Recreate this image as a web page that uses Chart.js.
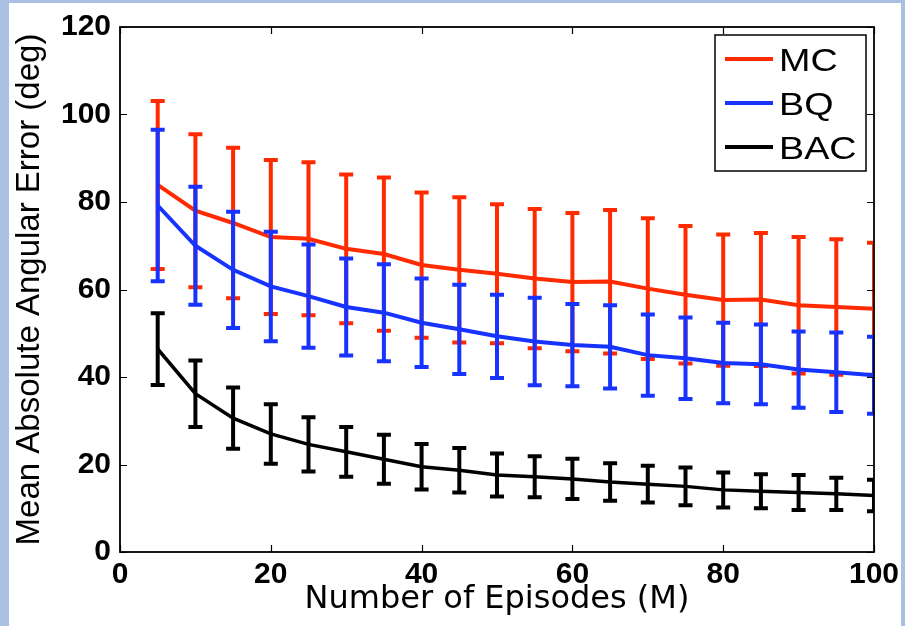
<!DOCTYPE html>
<html>
<head>
<meta charset="utf-8">
<script src="https://cdn.jsdelivr.net/npm/chart.js@4/dist/chart.umd.min.js"></script>
<style>
  body { margin: 0; background: #fff; }
  canvas { display: block; }
</style>
</head>
<body>
<canvas id="myChart" width="905" height="626"></canvas>
<script>
const episodes = [5, 10, 15, 20, 25, 30, 35, 40, 45, 50, 55, 60, 65, 70, 75, 80, 85, 90, 95, 100];

const mcMean = [83.9, 78.0, 75.2, 72.0, 71.6, 69.3, 68.1, 65.6, 64.5, 63.6, 62.5, 61.7, 61.8, 60.2, 58.8, 57.6, 57.7, 56.4, 56.0, 55.6];
const mcErr = [19.2, 17.5, 17.2, 17.6, 17.5, 17.0, 17.5, 16.6, 16.6, 15.9, 15.9, 15.8, 16.4, 16.1, 15.7, 15.0, 15.2, 15.6, 15.5, 15.1];

const bqMean = [79.2, 70.0, 64.5, 60.7, 58.5, 56.0, 54.7, 52.4, 50.9, 49.3, 48.1, 47.3, 46.9, 45.0, 44.3, 43.2, 42.9, 41.7, 41.1, 40.4];
const bqErr = [17.3, 13.5, 13.3, 12.5, 11.8, 11.1, 11.1, 10.1, 10.2, 9.5, 10.0, 9.4, 9.5, 9.3, 9.3, 9.2, 9.1, 8.7, 9.1, 8.8];

const bacMean = [46.4, 36.2, 30.6, 27.0, 24.6, 22.9, 21.2, 19.5, 18.7, 17.6, 17.2, 16.7, 16.0, 15.5, 15.0, 14.2, 13.9, 13.6, 13.3, 12.9];
const bacErr = [8.2, 7.6, 7.0, 6.8, 6.2, 5.7, 5.6, 5.2, 5.1, 4.9, 4.7, 4.6, 4.3, 4.2, 4.3, 4.0, 3.9, 4.0, 3.7, 3.6];

const xTicks = [0, 20, 40, 60, 80, 100];
const yTicks = [0, 20, 40, 60, 80, 100, 120];

function points(means) {
    return episodes.map((e, i) => ({x: e, y: means[i]}));
}

// slide frame + axes box with inward ticks
const frame = {
    id: 'frame',
    beforeDraw(chart) {
        const ctx = chart.ctx;
        ctx.save();
        ctx.fillStyle = '#a9c0e2';
        ctx.fillRect(0, 0, chart.width, chart.height);
        ctx.fillStyle = '#fff';
        ctx.fillRect(9, 3, chart.width - 13, chart.height - 3);
        ctx.restore();
    },
    afterDatasetsDraw(chart) {
        const {ctx, chartArea: a, scales: {x, y}} = chart;
        ctx.save();
        ctx.strokeStyle = '#000';
        ctx.lineWidth = 1.2;
        ctx.beginPath();
        yTicks.forEach(v => {
            const py = Math.round(y.getPixelForValue(v)) + 0.5;
            ctx.moveTo(a.left, py); ctx.lineTo(a.left + 7, py);
            ctx.moveTo(a.right, py); ctx.lineTo(a.right - 7, py);
        });
        xTicks.forEach(v => {
            const px = Math.round(x.getPixelForValue(v)) + 0.5;
            ctx.moveTo(px, a.bottom); ctx.lineTo(px, a.bottom - 7);
            ctx.moveTo(px, a.top); ctx.lineTo(px, a.top + 7);
        });
        ctx.stroke();
        ctx.lineWidth = 1.8;
        ctx.strokeRect(a.left, a.top, a.right - a.left, a.bottom - a.top);
        ctx.restore();
    }
};

const errorBars = {
    id: 'errorBars',
    afterDatasetDraw(chart, args) {
        const ds = chart.data.datasets[args.index];
        const {ctx, chartArea: a, scales: {x, y}} = chart;
        ctx.save();
        ctx.beginPath();
        ctx.rect(a.left, a.top, a.right - a.left, a.bottom - a.top);
        ctx.clip();
        ctx.strokeStyle = ds.borderColor;
        ctx.lineWidth = 4;
        ds.data.forEach((p, i) => {
            const px = x.getPixelForValue(p.x);
            const top = y.getPixelForValue(p.y + ds.errors[i]);
            const bot = y.getPixelForValue(p.y - ds.errors[i]);
            ctx.beginPath();
            ctx.moveTo(px, top); ctx.lineTo(px, bot);
            ctx.moveTo(px - 7, top); ctx.lineTo(px + 7, top);
            ctx.moveTo(px - 7, bot); ctx.lineTo(px + 7, bot);
            ctx.stroke();
        });
        ctx.restore();
    }
};

const boxLegend = {
    id: 'boxLegend',
    afterDraw(chart) {
        const {ctx, chartArea: a} = chart;
        const w = 151, h = 136;
        const bx = a.right - 8 - w, by = a.top + 8;
        ctx.save();
        ctx.fillStyle = '#fff';
        ctx.fillRect(bx, by, w, h);
        ctx.strokeStyle = '#000';
        ctx.lineWidth = 1.5;
        ctx.strokeRect(bx, by, w, h);
        ctx.font = '32px "Liberation Sans", Arial, sans-serif';
        ctx.textBaseline = 'alphabetic';
        chart.data.datasets.forEach((ds, i) => {
            const ly = by + 24 + i * 44;
            ctx.strokeStyle = ds.borderColor;
            ctx.lineWidth = 4;
            ctx.beginPath();
            ctx.moveTo(bx + 10, ly); ctx.lineTo(bx + 58, ly);
            ctx.stroke();
            ctx.save();
            ctx.translate(bx + 64, ly + 12);
            ctx.scale(1.18, 1);
            ctx.fillStyle = '#000';
            ctx.fillText(ds.label, 0, 0);
            ctx.restore();
        });
        ctx.restore();
    }
};

const tickFont = {family: '"Liberation Sans", Arial, sans-serif', size: 30, weight: 'bold'};

const config = {
    type: 'line',
    data: {
        datasets: [{
            label: 'MC',
            data: points(mcMean),
            errors: mcErr,
            borderColor: '#ff2a00',
            borderWidth: 4,
            pointRadius: 0,
            tension: 0,
            order: 3
        }, {
            label: 'BQ',
            data: points(bqMean),
            errors: bqErr,
            borderColor: '#1733ff',
            borderWidth: 4,
            pointRadius: 0,
            tension: 0,
            order: 2
        }, {
            label: 'BAC',
            data: points(bacMean),
            errors: bacErr,
            borderColor: '#000000',
            borderWidth: 3.5,
            pointRadius: 0,
            tension: 0,
            order: 1
        }]
    },
    options: {
        responsive: false,
        animation: false,
        devicePixelRatio: 1,
        layout: {
            padding: {left: 0, top: 21, right: 31, bottom: 0}
        },
        plugins: {
            legend: {display: false},
            tooltip: {enabled: false}
        },
        scales: {
            x: {
                type: 'linear',
                min: 0,
                max: 100,
                grid: {display: false, drawTicks: false},
                border: {display: false},
                afterBuildTicks: scale => { scale.ticks = xTicks.map(v => ({value: v})); },
                afterFit: scale => { scale.height = 74; },
                ticks: {
                    color: '#000',
                    font: tickFont,
                    padding: 5,
                    maxRotation: 0,
                    autoSkip: false
                },
                title: {
                    display: true,
                    text: 'Number of Episodes (M)',
                    color: '#000',
                    font: {family: '"DejaVu Sans", sans-serif', size: 32},
                    padding: {top: 0, bottom: 7}
                }
            },
            y: {
                min: 0,
                max: 120,
                grid: {display: false, drawTicks: false},
                border: {display: false},
                afterBuildTicks: scale => { scale.ticks = yTicks.map(v => ({value: v})); },
                afterFit: scale => { scale.width = 120; },
                ticks: {
                    color: '#000',
                    font: tickFont,
                    padding: 9
                },
                title: {
                    display: true,
                    text: 'Mean Absolute Angular Error (deg)',
                    color: '#000',
                    font: {family: '"Liberation Sans", Arial, sans-serif', size: 33},
                    padding: {top: 10, bottom: 0}
                }
            }
        }
    },
    plugins: [frame, errorBars, boxLegend]
};

new Chart(document.getElementById('myChart'), config);
</script>
</body>
</html>
